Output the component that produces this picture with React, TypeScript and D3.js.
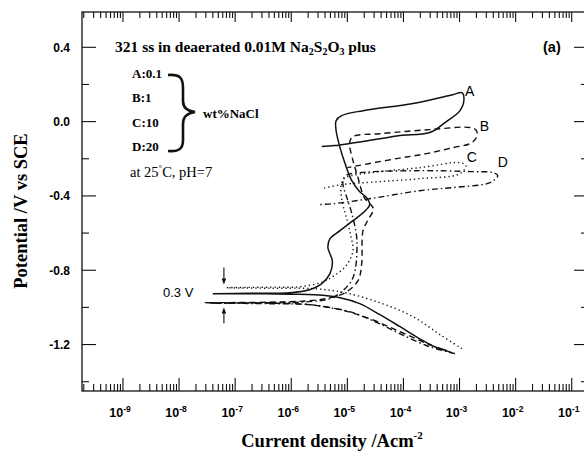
import React, { useEffect, useRef } from 'react';
import * as d3 from 'd3';

// Cyclic polarisation curves, current density (A/cm2) vs potential (V vs SCE)
// A: 0.1 wt% NaCl (solid)
const aI = [6.0e-4, 3.6e-4, 1.95e-4, 8.7e-5, 3.8e-5, 1.66e-5, 7.4e-6, 2.6e-6, 9.5e-7, 1.8e-7, 4.0e-8, 1.8e-7, 9.5e-7, 2.1e-6, 3.5e-6, 4.9e-6, 5.4e-6, 4.5e-6, 4.9e-6, 7.4e-6, 1.26e-5, 2.0e-5, 2.5e-5, 2.2e-5, 1.66e-5, 1.2e-5, 9.1e-6, 7.4e-6, 6.3e-6, 6.3e-6, 7.9e-6, 1.9e-5, 1.48e-4, 7.6e-4, 1.1e-3, 1.2e-3, 1.02e-3, 5.5e-4, 2.95e-4, 8.7e-5, 3.8e-5, 6.0e-6, 3.5e-6];
const aE = [-1.233, -1.212, -1.169, -1.104, -1.039, -0.980, -0.948, -0.932, -0.929, -0.926, -0.926, -0.924, -0.921, -0.905, -0.872, -0.818, -0.749, -0.679, -0.630, -0.587, -0.533, -0.485, -0.447, -0.409, -0.377, -0.318, -0.226, -0.140, -0.048, 0.005, 0.032, 0.059, 0.097, 0.145, 0.156, 0.124, 0.059, -0.005, -0.059, -0.075, -0.092, -0.129, -0.134];

// B: 1 wt% NaCl (dashed)
const bI = [7.3e-4, 2.95e-4, 8.7e-5, 2.5e-5, 7.4e-6, 2.1e-6, 4.2e-7, 2.9e-8, 4.2e-7, 2.1e-6, 4.9e-6, 9.1e-6, 1.55e-5, 1.8e-5, 1.9e-5, 2.3e-5, 2.9e-5, 2.0e-5, 1.55e-5, 1.26e-5, 1.1e-5, 1.26e-5, 3.8e-5, 2.95e-4, 1.55e-3, 2.0e-3, 2.0e-3, 1.55e-3, 7.6e-4, 2.6e-4, 7.6e-5, 1.55e-5, 1.0e-5];
const bE = [-1.244, -1.201, -1.131, -1.061, -1.012, -0.985, -0.977, -0.975, -0.972, -0.964, -0.948, -0.921, -0.856, -0.765, -0.587, -0.533, -0.468, -0.409, -0.302, -0.210, -0.113, -0.081, -0.065, -0.043, -0.032, -0.048, -0.086, -0.118, -0.140, -0.172, -0.199, -0.237, -0.248];

// C: 10 wt% NaCl (dotted)
const cI = [1.1e-3, 4.5e-4, 1.48e-4, 3.8e-5, 9.1e-6, 2.45e-6, 4.2e-7, 7.1e-8, 4.2e-7, 1.4e-6, 3.7e-6, 6.5e-6, 9.8e-6, 1.26e-5, 1.15e-5, 9.4e-6, 8.0e-6, 7.7e-6, 8.7e-6, 1.2e-5, 3.8e-5, 1.95e-4, 1.02e-3, 1.3e-3, 1.02e-3, 1.95e-4, 3.8e-5, 8.0e-6, 3.5e-6];
const cE = [-1.222, -1.147, -1.050, -0.975, -0.921, -0.899, -0.897, -0.894, -0.891, -0.889, -0.862, -0.819, -0.770, -0.695, -0.614, -0.506, -0.425, -0.345, -0.307, -0.291, -0.269, -0.248, -0.221, -0.237, -0.280, -0.307, -0.323, -0.339, -0.361];

// D: 20 wt% NaCl (dash-dot)
const dI = [8.3e-4, 2.95e-4, 8.7e-5, 3.4e-5, 1.1e-5, 4.9e-6, 2.1e-6, 4.2e-7, 3.5e-8, 4.2e-7, 2.1e-6, 4.9e-6, 8.3e-6, 1.26e-5, 1.48e-5, 1.2e-5, 9.8e-6, 8.3e-6, 9.3e-6, 1.66e-5, 1.95e-4, 1.55e-3, 4.0e-3, 4.8e-3, 4.0e-3, 3.1e-3, 7.6e-4, 1.95e-4, 2.5e-5, 5.5e-6, 3.0e-6];
const dE = [-1.249, -1.212, -1.142, -1.082, -1.023, -1.002, -0.985, -0.980, -0.977, -0.975, -0.969, -0.953, -0.910, -0.840, -0.641, -0.495, -0.409, -0.328, -0.291, -0.275, -0.264, -0.269, -0.275, -0.291, -0.318, -0.334, -0.355, -0.372, -0.415, -0.442, -0.447];

const seriesNames = ['A', 'B', 'C', 'D'];
const seriesI = [aI, bI, cI, dI];
const seriesE = [aE, bE, cE, dE];
const seriesDash = ['none', '6,4', '1.3,3', '6,3,1.5,3'];
// where each curve's letter sits (current, potential)
const labelI = [1.25e-3, 2.3e-3, 1.35e-3, 4.8e-3];
const labelE = [0.14, -0.05, -0.215, -0.245];

const xTickValues = [1e-9, 1e-8, 1e-7, 1e-6, 1e-5, 1e-4, 1e-3, 1e-2, 1e-1];
const xTickExp = ['-9', '-8', '-7', '-6', '-5', '-4', '-3', '-2', '-1'];
const yTickValues = [-1.2, -0.8, -0.4, 0.0, 0.4];
const yTickLabels = ['-1.2', '-0.8', '-0.4', '0.0', '0.4'];
const yMinorValues = [-1.4, -1.0, -0.6, -0.2, 0.2];

const legendRows = ['A:0.1', 'B:1', 'C:10', 'D:20'];

function App() {
    const ref = useRef<SVGSVGElement>(null);
    const W = 584;
    const H = 457;
    const left = 82, right = 588, top = 12, bottom = 391;

    useEffect(() => {
        const svg = d3.select(ref.current);
        svg.selectAll('*').remove();

        const x = d3.scaleLog().domain([1.86e-10, 0.195]).range([left, right]);
        const y = d3.scaleLinear().domain([-1.45, 0.59]).range([bottom, top]);

        const serif = "'Liberation Serif', 'Times New Roman', serif";
        const sans = "'Liberation Sans', Arial, sans-serif";

        // frame
        svg.append('rect')
            .attr('x', left).attr('y', top)
            .attr('width', right - left).attr('height', bottom - top)
            .attr('fill', 'none').attr('stroke', '#111').attr('stroke-width', 1.3);

        // x ticks, bottom and top, pointing inward
        const minorX: number[] = [];
        for (let e = -10; e <= -1; e++) {
            for (let m = 2; m <= 9; m++) {
                const v = m * Math.pow(10, e);
                if (v > 1.86e-10 && v < 0.195) minorX.push(v);
            }
        }
        const g = svg.append('g').attr('stroke', '#111').attr('stroke-width', 1.1);
        minorX.forEach(v => {
            g.append('line').attr('x1', x(v)).attr('x2', x(v)).attr('y1', bottom).attr('y2', bottom - 7);
            g.append('line').attr('x1', x(v)).attr('x2', x(v)).attr('y1', top).attr('y2', top + 6);
        });
        xTickValues.forEach(v => {
            g.append('line').attr('x1', x(v)).attr('x2', x(v)).attr('y1', bottom).attr('y2', bottom - 13);
            g.append('line').attr('x1', x(v)).attr('x2', x(v)).attr('y1', top).attr('y2', top + 10);
        });

        // y ticks, left and right
        yTickValues.forEach(v => {
            g.append('line').attr('x1', left).attr('x2', left + 14).attr('y1', y(v)).attr('y2', y(v));
            g.append('line').attr('x1', right).attr('x2', right - 14).attr('y1', y(v)).attr('y2', y(v));
        });
        yMinorValues.forEach(v => {
            g.append('line').attr('x1', left).attr('x2', left + 7).attr('y1', y(v)).attr('y2', y(v));
            g.append('line').attr('x1', right).attr('x2', right - 7).attr('y1', y(v)).attr('y2', y(v));
        });

        // x tick labels 10^n
        xTickValues.forEach((v, i) => {
            const t = svg.append('text')
                .attr('x', x(v) - 3).attr('y', 417)
                .attr('text-anchor', 'middle')
                .style('font-family', sans).style('font-weight', 'bold').style('font-size', '12.5px');
            t.append('tspan').text('10');
            t.append('tspan').attr('dy', -5).style('font-size', '8.5px').text(xTickExp[i]);
        });

        // y tick labels
        yTickValues.forEach((v, i) => {
            svg.append('text')
                .attr('x', 70).attr('y', y(v)).attr('dy', '0.36em')
                .attr('text-anchor', 'end')
                .style('font-family', sans).style('font-weight', 'bold').style('font-size', '12px')
                .text(yTickLabels[i]);
        });

        // axis titles
        const xt = svg.append('text')
            .attr('x', 332).attr('y', 447)
            .attr('text-anchor', 'middle')
            .style('font-family', serif).style('font-weight', 'bold').style('font-size', '18.5px');
        xt.append('tspan').text('Current density /Acm');
        xt.append('tspan').attr('dy', -8).style('font-size', '11px').text('-2');

        svg.append('text')
            .attr('transform', 'translate(27,211) rotate(-90)')
            .attr('text-anchor', 'middle')
            .style('font-family', serif).style('font-weight', 'bold').style('font-size', '18.5px')
            .text('Potential /V vs SCE');

        // curves
        const line = d3.line<[number, number]>()
            .x(d => x(d[0]))
            .y(d => y(d[1]))
            .curve(d3.curveCatmullRom.alpha(0.5));

        seriesI.forEach((arr, k) => {
            const pts = arr.map((v, i) => [v, seriesE[k][i]] as [number, number]);
            svg.append('path')
                .attr('d', line(pts))
                .attr('fill', 'none')
                .attr('stroke', '#111')
                .attr('stroke-width', k === 0 ? 1.5 : 1.4)
                .attr('stroke-dasharray', seriesDash[k]);
            svg.append('text')
                .attr('x', x(labelI[k])).attr('y', y(labelE[k]))
                .style('font-family', sans).style('font-size', '14px')
                .text(seriesNames[k]);
        });

        // 0.3 V marker with arrows
        const ax = x(6.3e-8);
        const arrows = [[-0.785, -0.877], [-1.085, -1.0]];
        arrows.forEach(([from, to]) => {
            const dir = y(to) > y(from) ? 1 : -1;
            svg.append('line')
                .attr('x1', ax).attr('x2', ax)
                .attr('y1', y(from)).attr('y2', y(to) - dir * 4)
                .attr('stroke', '#111').attr('stroke-width', 1.1);
            svg.append('path')
                .attr('d', `M${ax - 2.3},${y(to) - dir * 6} L${ax + 2.3},${y(to) - dir * 6} L${ax},${y(to)} Z`)
                .attr('fill', '#111');
        });
        svg.append('text')
            .attr('x', 163).attr('y', 297)
            .style('font-family', sans).style('font-size', '13px')
            .text('0.3 V');

        // annotations
        const title = svg.append('text')
            .attr('x', 115).attr('y', 52)
            .style('font-family', serif).style('font-weight', 'bold').style('font-size', '15.5px');
        title.append('tspan').text('321 ss in deaerated 0.01M Na');
        title.append('tspan').attr('dy', 3).style('font-size', '10px').text('2');
        title.append('tspan').attr('dy', -3).text('S');
        title.append('tspan').attr('dy', 3).style('font-size', '10px').text('2');
        title.append('tspan').attr('dy', -3).text('O');
        title.append('tspan').attr('dy', 3).style('font-size', '10px').text('3');
        title.append('tspan').attr('dy', -3).text(' plus');

        svg.append('text')
            .attr('x', 543).attr('y', 52)
            .style('font-family', sans).style('font-weight', 'bold').style('font-size', '14.5px')
            .text('(a)');

        legendRows.forEach((r, i) => {
            svg.append('text')
                .attr('x', 132).attr('y', 77.5 + i * 24.5)
                .style('font-family', serif).style('font-weight', 'bold').style('font-size', '13px')
                .text(r);
        });

        svg.append('path')
            .attr('d', 'M168,75 C180,74 183,78 183,88 L183,101 C183,107 187,111 195,112 C187,113 183,117 183,124 L183,140 C183,148 180,152 168,151')
            .attr('fill', 'none').attr('stroke', '#111').attr('stroke-width', 2.6);

        svg.append('text')
            .attr('x', 203).attr('y', 118)
            .style('font-family', serif).style('font-weight', 'bold').style('font-size', '13px')
            .text('wt%NaCl');

        const cond = svg.append('text')
            .attr('x', 130).attr('y', 177)
            .style('font-family', serif).style('font-size', '14.5px');
        cond.append('tspan').text('at 25');
        cond.append('tspan').attr('dy', -6).style('font-size', '9px').text('°');
        cond.append('tspan').attr('dy', 6).text('C, pH=7');
    }, []);

    return (
        <svg ref={ref} width={W} height={H}
            style={{ position: 'absolute', left: 0, top: 0, background: '#fff' }} />
    );
}

export default App;
